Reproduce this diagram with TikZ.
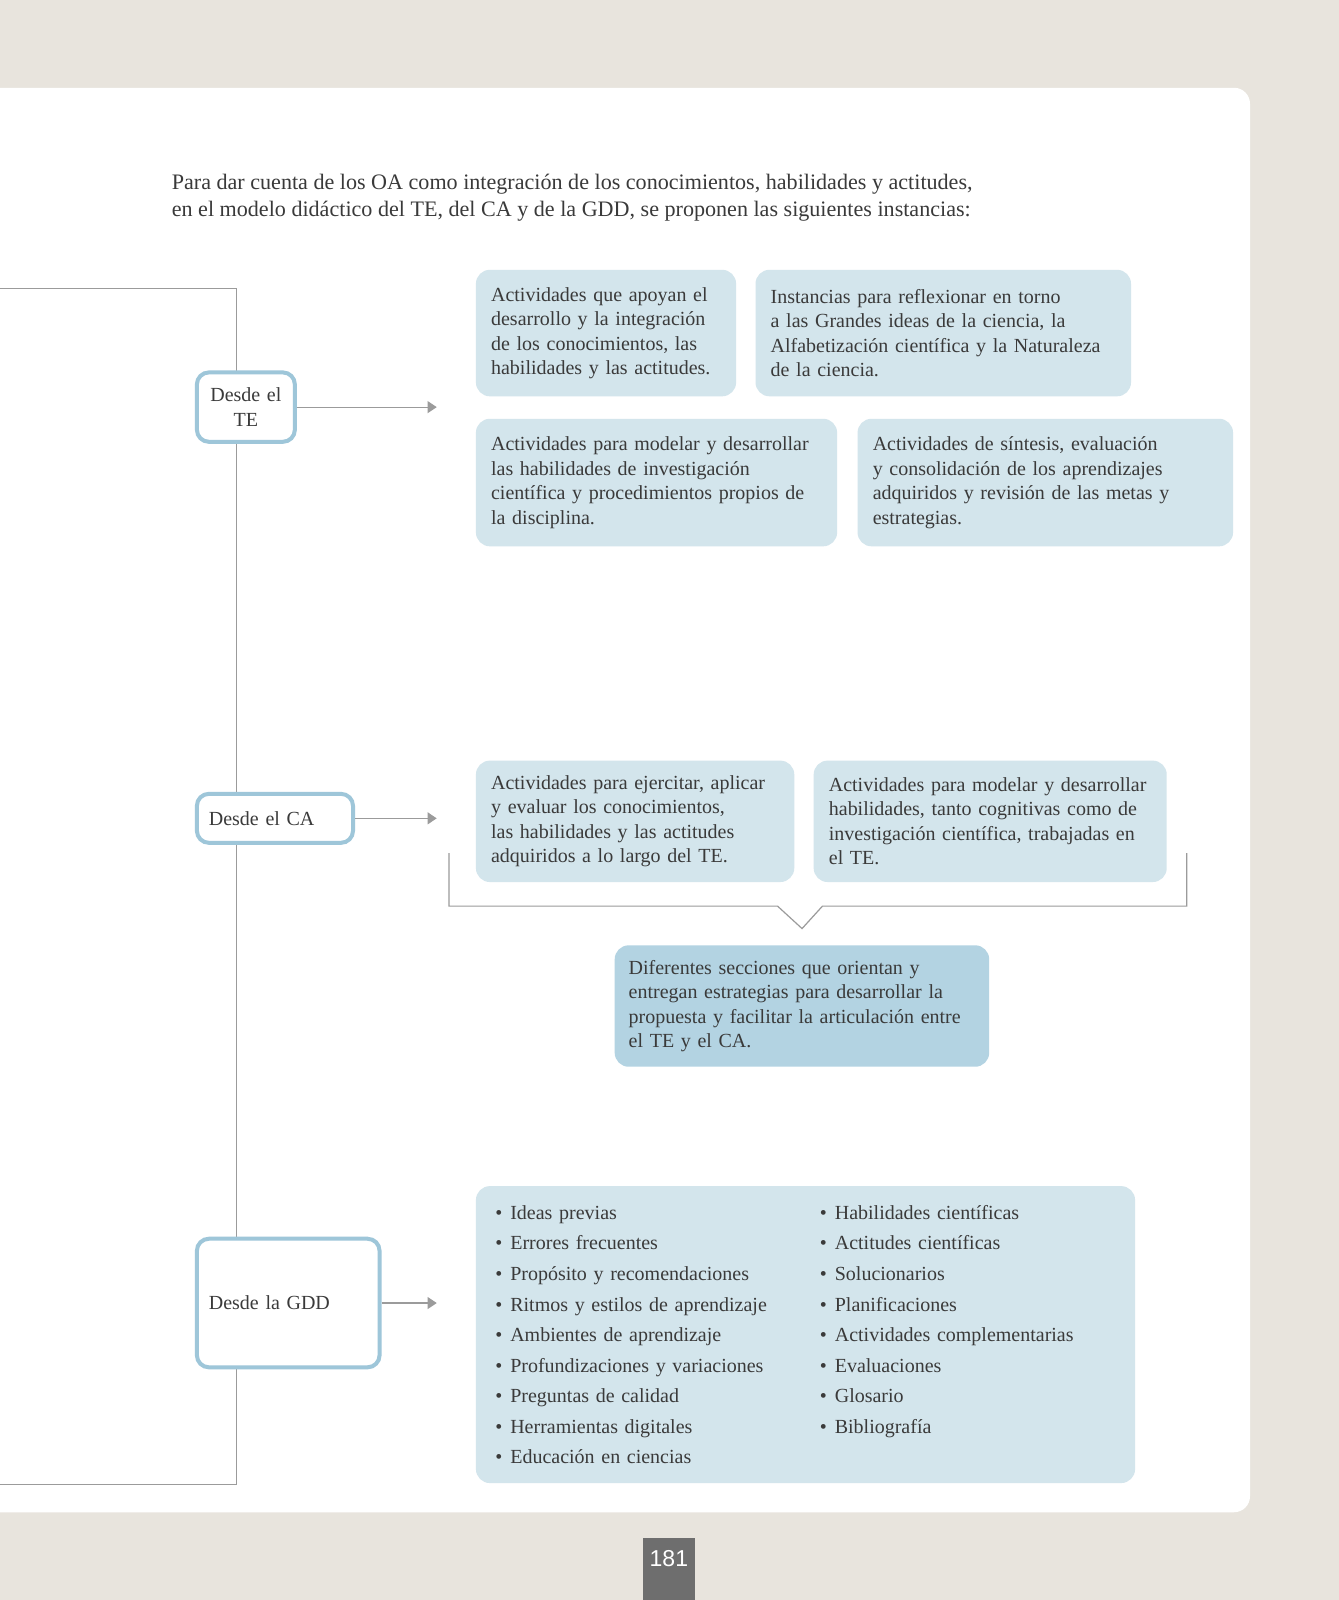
\documentclass[tikz,border=0pt]{standalone}
\usepackage{fontspec}
\setmainfont{Liberation Serif}
\setsansfont{Liberation Sans}
\usetikzlibrary{positioning,
                arrows.meta}                % arrow tips

\definecolor{pagebg}{HTML}{E8E4DD}
\definecolor{boxblue}{HTML}{D3E5EC}
\definecolor{boxdark}{HTML}{B3D3E2}
\definecolor{frameblue}{HTML}{9EC6D9}
\definecolor{linegray}{HTML}{9B9B9B}
\definecolor{textgray}{HTML}{3A3A3A}
\definecolor{numgray}{HTML}{6E6E6E}

\newcommand{\blt}[1]{\textbullet\hspace{4pt}#1}

\tikzset{
  sized/.code 2 args={%
    \pgfmathsetlengthmacro\boxtw{#1*0.5103pt-2*\pgfkeysvalueof{/pgf/inner xsep}}%
    \pgfkeysalso{minimum width=#1*0.5103pt, minimum height=#2*0.5103pt, text width=\boxtw}},
  actbox/.style={fill=boxblue, rounded corners=7pt, anchor=north west, align=left,
                 inner xsep=7.6pt, inner ysep=0pt, text=textgray,
                 font=\fontsize{10}{12.25}\selectfont},
  desdebox/.style={draw=frameblue, line width=2pt, fill=white, rounded corners=6pt,
                   anchor=north west, align=left, inner xsep=6pt, inner ysep=0pt,
                   text=textgray, font=\fontsize{10}{12.25}\selectfont},
  grayline/.style={draw=linegray, line width=0.6pt},
  link/.style={grayline, -{Triangle[length=4.6pt,width=6pt]}}
}

\begin{document}
\begin{tikzpicture}[x=0.5103pt, y=-0.5103pt]
  \useasboundingbox (0,0) rectangle (1312,1568);
  \fill[pagebg] (0,0) rectangle (1312,1568);
  \fill[white, rounded corners=8pt] (-30,86) rectangle (1225,1482);

  \node[anchor=base west, align=left, inner sep=0pt, text=textgray,
        font=\fontsize{11.05}{13.8}\selectfont] (intro) at (168,212.5)
    {Para dar cuenta de los OA como integración de los conocimientos, habilidades y actitudes,\\
     en el modelo didáctico del TE, del CA y de la GDD, se proponen las siguientes instancias:};

  % left bracket
  \draw[grayline] (0,283) -| (232,1455) -- (0,1455);

  \node[desdebox, align=center, sized={96}{68}] (te) at (191,363) {Desde el\\TE};
  \node[desdebox, sized={153}{48}] (ca) at (191,776) {Desde el CA};
  \node[desdebox, sized={179}{126}] (gdd) at (191,1212) {Desde la GDD};

  \coordinate (arrx) at (428,0);
  \draw[link] (te.east) -- (te.east -| arrx);
  \draw[link] (ca.east) -- (ca.east -| arrx);
  \draw[link] (gdd.east) -- (gdd.east -| arrx);

  % TE
  \node[actbox, sized={255}{124}] (teact1) at (466,264)
    {Actividades que apoyan el\\ desarrollo y la integración\\ de los conocimientos, las\\ habilidades y las actitudes.};
  \node[actbox, sized={368}{124}] (teact2) at (740,264)
    {Instancias para reflexionar en torno\\ a las Grandes ideas de la ciencia, la\\ Alfabetización científica y la Naturaleza\\ de la ciencia.};
  \node[actbox, sized={354}{125}] (teact3) at (466,410)
    {Actividades para modelar y desarrollar\\ las habilidades de investigación\\ científica y procedimientos propios de\\ la disciplina.};
  \node[actbox, sized={368}{125}] (teact4) at (840,410)
    {Actividades de síntesis, evaluación\\ y consolidación de los aprendizajes\\ adquiridos y revisión de las metas y\\ estrategias.};

  % CA
  \node[actbox, sized={312}{119}] (caact1) at (466,745)
    {Actividades para ejercitar, aplicar\\ y evaluar los conocimientos,\\ las habilidades y las actitudes\\ adquiridos a lo largo del TE.};
  \node[actbox, sized={346}{119}] (caact2) at (797,745)
    {Actividades para modelar y desarrollar\\ habilidades, tanto cognitivas como de\\ investigación científica, trabajadas en\\ el TE.};
  \draw[grayline] (440,836) |- (762,888) -- (786,910) -- (806,888) -| (1163,836);
  \node[actbox, fill=boxdark, inner xsep=7pt, sized={367}{119}] (caorient) at (602,926)
    {Diferentes secciones que orientan y\\ entregan estrategias para desarrollar la\\ propuesta y facilitar la articulación entre\\ el TE y el CA.};

  % GDD
  \node[actbox, inner xsep=9.7pt, sized={646}{291}, font=\fontsize{10}{15.26}\selectfont] (gddlist) at (466,1162)
    {\parbox[t]{162.3pt}{\blt{Ideas previas}\\ \blt{Errores frecuentes}\\ \blt{Propósito y recomendaciones}\\
      \blt{Ritmos y estilos de aprendizaje}\\ \blt{Ambientes de aprendizaje}\\ \blt{Profundizaciones y variaciones}\\
      \blt{Preguntas de calidad}\\ \blt{Herramientas digitales}\\ \blt{Educación en ciencias}}%
     \parbox[t]{145pt}{\blt{Habilidades científicas}\\ \blt{Actitudes científicas}\\ \blt{Solucionarios}\\
      \blt{Planificaciones}\\ \blt{Actividades complementarias}\\ \blt{Evaluaciones}\\
      \blt{Glosario}\\ \blt{Bibliografía}}};

  % page number
  \fill[numgray] (630,1507) rectangle (681,1568);
  \node[text=white, font=\sffamily\fontsize{11.5}{12}\selectfont] (pnum) at (655.5,1527) {181};
\end{tikzpicture}
\end{document}
